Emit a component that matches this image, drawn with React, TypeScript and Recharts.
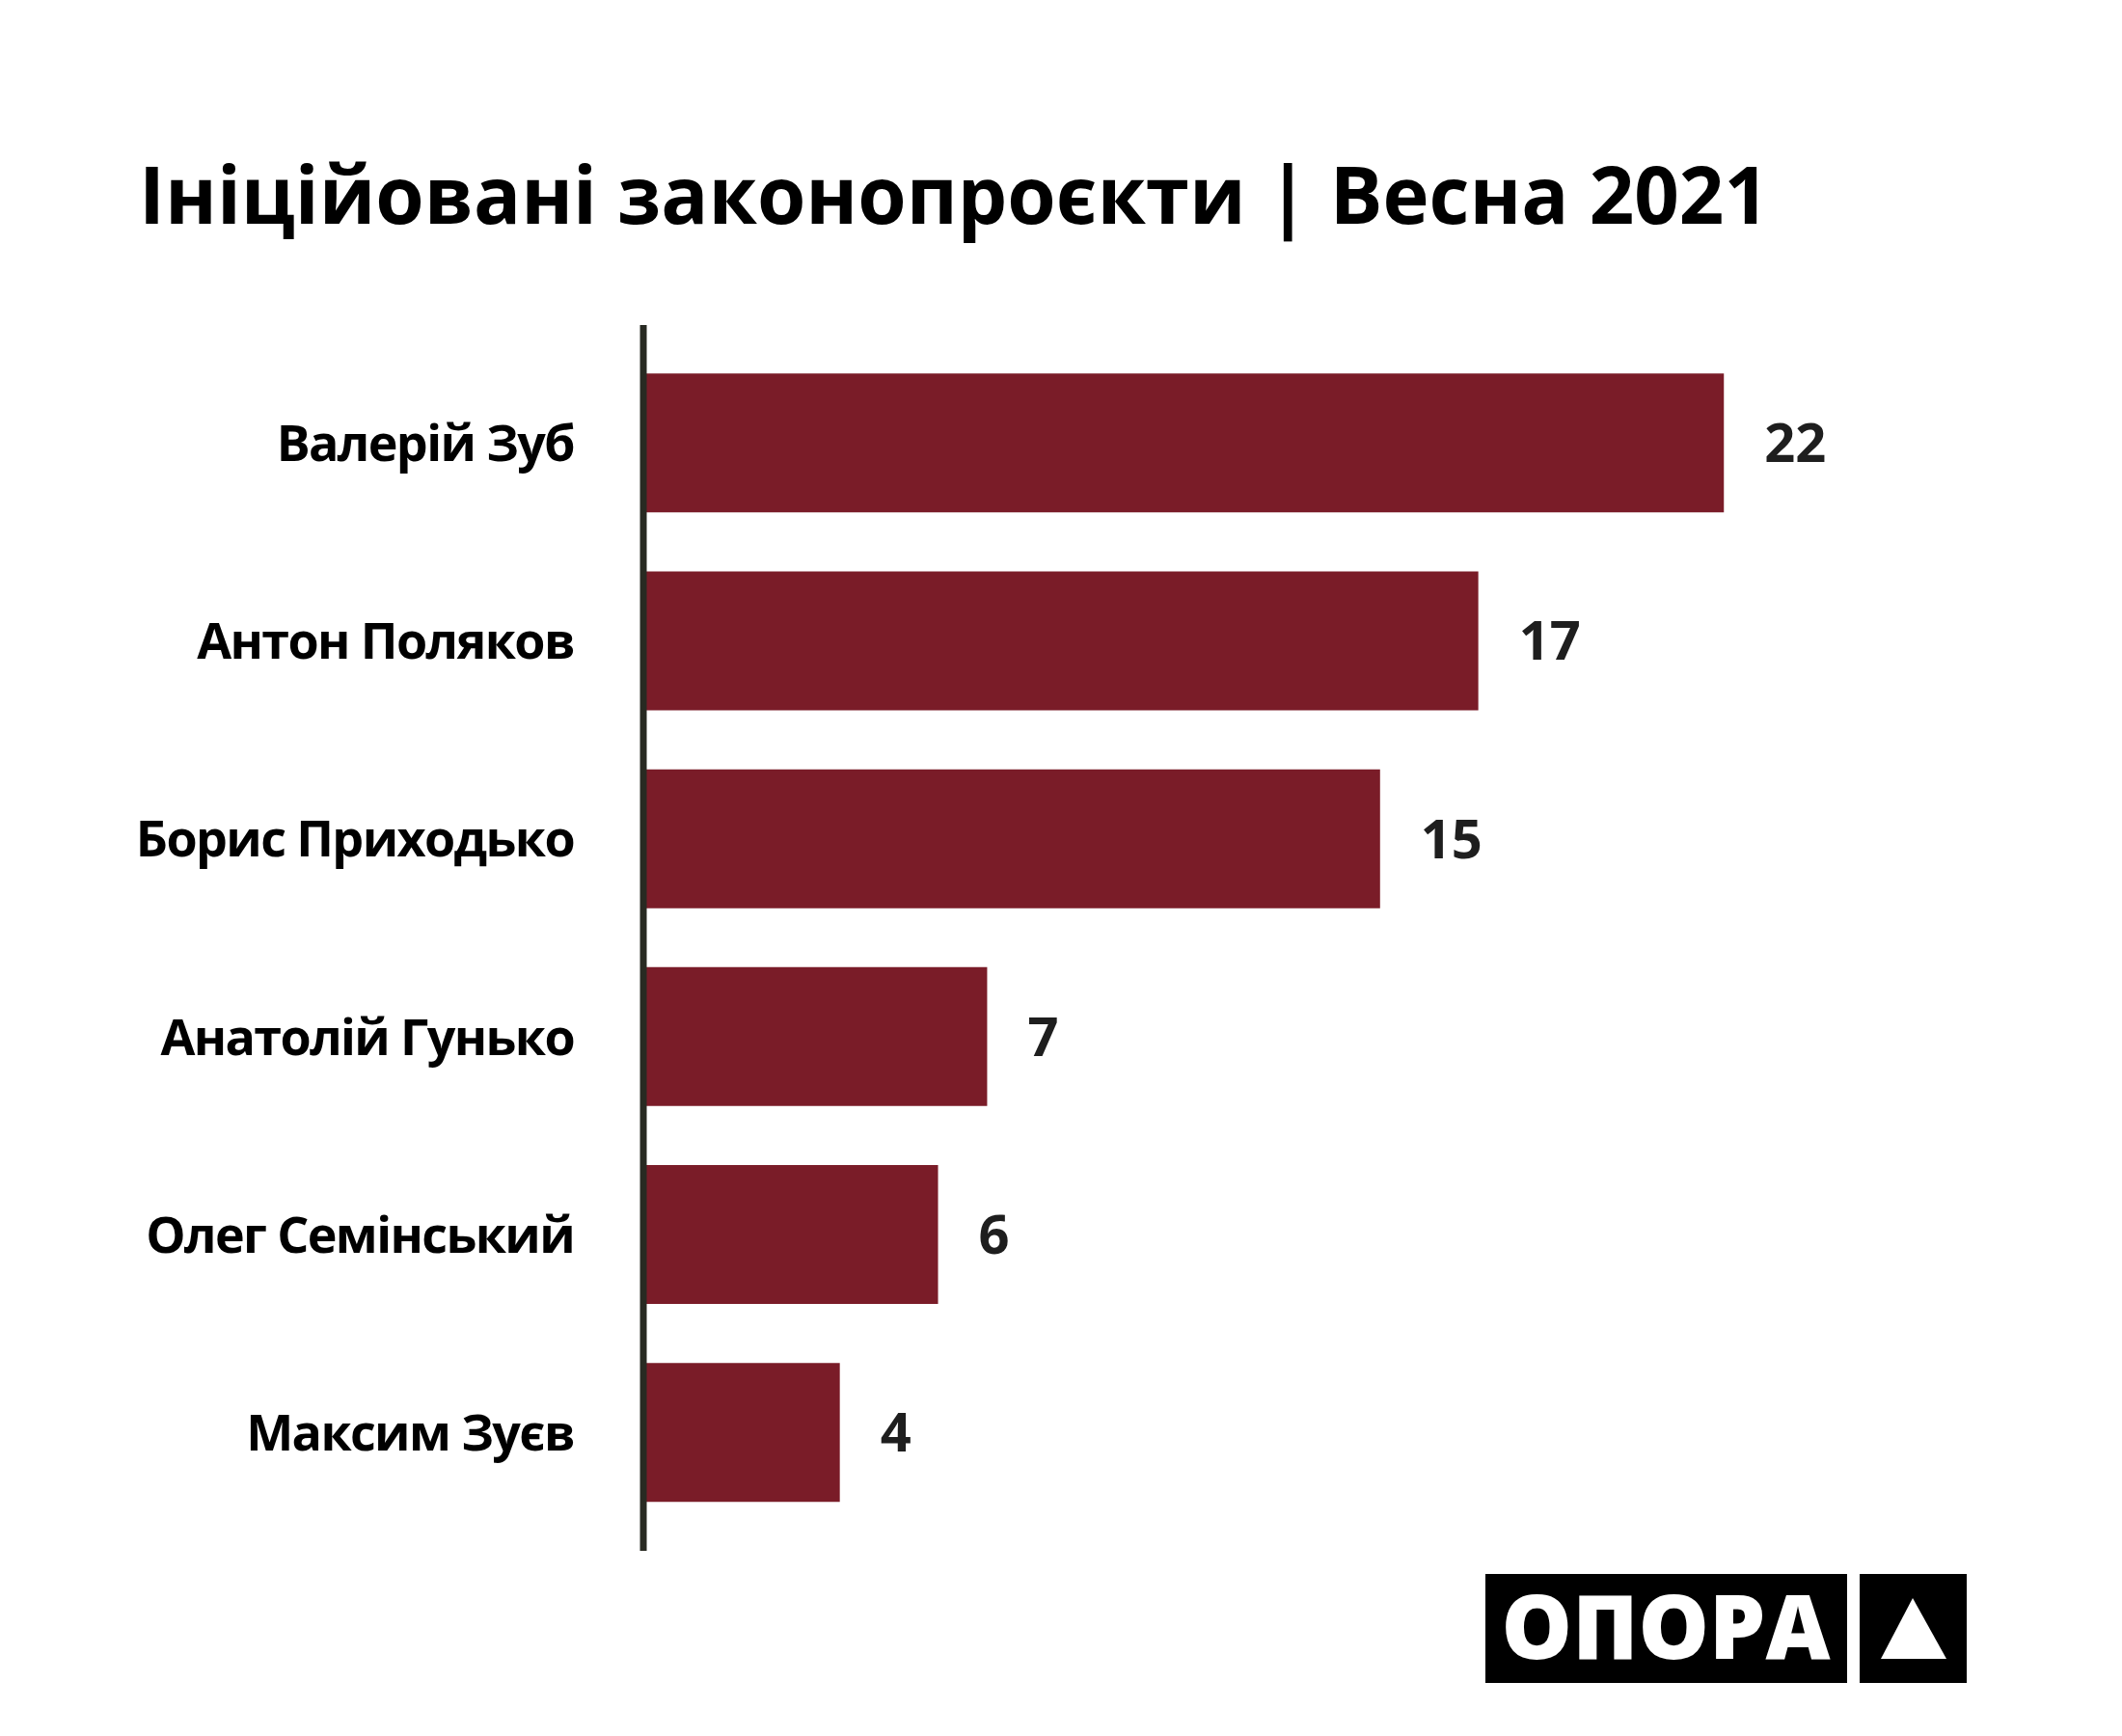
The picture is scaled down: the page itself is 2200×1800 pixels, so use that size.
import { BarChart, Bar, XAxis, YAxis, LabelList } from "recharts"

const names = [
  "Валерій Зуб",
  "Антон Поляков",
  "Борис Приходько",
  "Анатолій Гунько",
  "Олег Семінський",
  "Максим Зуєв",
]
const bills = [22, 17, 15, 7, 6, 4]

const title = "Ініційовані законопроєкти | Весна 2021"

const data = names.map((name, i) => ({ name, value: bills[i] }))

const FONT = "'Open Sans', 'Noto Sans', sans-serif"

export default function App() {
  return (
    <div style={{ position: "absolute", left: 0, top: 0, width: 2200, height: 1800, background: "#fff" }}>
      <BarChart
        width={2200}
        height={1800}
        data={data}
        layout="vertical"
        margin={{ top: 337, right: 260, bottom: 192, left: 0 }}
        barCategoryGap="14.8%"
      >
        <XAxis type="number" domain={[0, 25]} hide />
        <YAxis
          type="category"
          dataKey="name"
          width={667}
          padding={{ top: 20, bottom: 20 }}
          axisLine={{ stroke: "#282a22", strokeWidth: 7 }}
          tickLine={false}
          tickSize={0}
          tickMargin={72}
          tick={{ fontFamily: FONT, fontWeight: 700, fontSize: 52, fill: "#000", letterSpacing: -1.6 }}
        />
        <Bar dataKey="value" fill="#7a1c28" isAnimationActive={false}>
          <LabelList
            dataKey="value"
            position="right"
            offset={42}
            style={{ fontFamily: FONT, fontWeight: 700, fontSize: 56, fill: "#1e1e1e" }}
          />
        </Bar>
      </BarChart>
      <svg
        width={2200}
        height={1800}
        style={{ position: "absolute", left: 0, top: 0, pointerEvents: "none" }}
      >
        <text
          x={144}
          y={232}
          fontFamily={FONT}
          fontWeight={700}
          fontSize={83}
          fill="#000"
          textLength={1690}
          lengthAdjust="spacingAndGlyphs"
        >
          {title}
        </text>
        <rect x={1540} y={1632} width={375} height={113} fill="#000" />
        <text
          x={1727}
          y={1720}
          textAnchor="middle"
          fontFamily={FONT}
          fontWeight={800}
          fontSize={92}
          fill="#fff"
          textLength={341}
          lengthAdjust="spacingAndGlyphs"
        >
          ОПОРА
        </text>
        <rect x={1928} y={1632} width={111} height={113} fill="#000" />
        <polygon points="1983,1657 1950,1720 2018,1720" fill="#fff" />
      </svg>
    </div>
  )
}
